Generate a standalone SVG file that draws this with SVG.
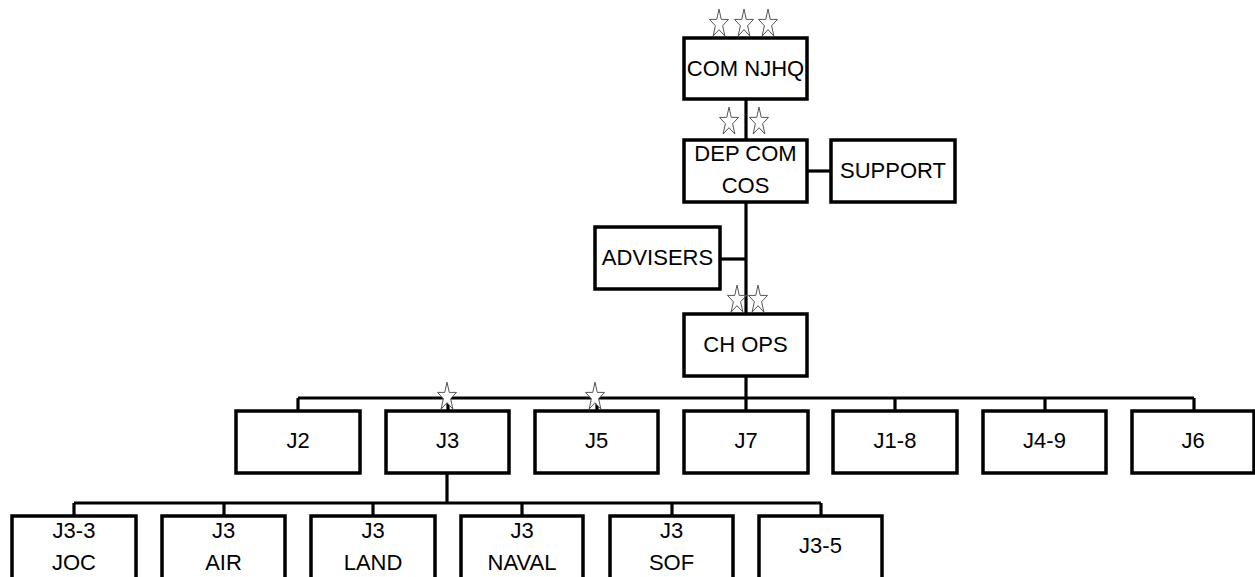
<svg xmlns="http://www.w3.org/2000/svg" width="1255" height="577" viewBox="0 0 1255 577">
<style>
.box{fill:#fff;stroke:#000;stroke-width:3.5}
.con{fill:none;stroke:#000;stroke-width:3.2}
text{font-family:"Liberation Sans",Arial,sans-serif;font-size:22px;fill:#000;text-anchor:middle}
.star{stroke:#555;stroke-width:1;stroke-linejoin:miter}
.s-open{fill:none}
.s-fill{fill:#fff}
</style>
<defs>
<path id="star" d="M0,-14.9 L2.25,-4.6 L9.5,-4.6 L3.63,1.76 L5.88,12.05 L0,5.69 L-5.88,12.05 L-3.63,1.76 L-9.5,-4.6 L-2.25,-4.6 Z"/>
</defs>
<rect width="1255" height="577" fill="#fff"/>
<g id="connectors">
<path class="con" d="M746,99 V140"/>
<path class="con" d="M807,171 H831"/>
<path class="con" d="M746,202 V314"/>
<path class="con" d="M720,259 H746"/>
<path class="con" d="M746,376 V398"/>
<path class="con" d="M298,398 H1194"/>
<path class="con" d="M298,398 V411 M448,398 V411 M597,398 V411 M746,398 V411 M895,398 V411 M1045,398 V411 M1194,398 V411"/>
<path class="con" d="M447,473 V503"/>
<path class="con" d="M74,503 H821"/>
<path class="con" d="M74,503 V516 M224,503 V516 M373,503 V516 M522,503 V516 M672,503 V516 M821,503 V516"/>
</g>
<g id="com-njhq"><rect class="box" x="684" y="38" width="123" height="61"/><text x="745.5" y="76">COM NJHQ</text></g>
<g id="dep-com"><rect class="box" x="684" y="140" width="123" height="62"/><text x="745.5" y="161">DEP COM</text><text x="745.5" y="193">COS</text></g>
<g id="support"><rect class="box" x="831" y="140" width="124" height="62"/><text x="893" y="178">SUPPORT</text></g>
<g id="advisers"><rect class="box" x="595" y="227" width="125" height="62"/><text x="657.5" y="265">ADVISERS</text></g>
<g id="ch-ops"><rect class="box" x="684" y="314" width="123" height="62"/><text x="745.5" y="352">CH OPS</text></g>
<g id="j2"><rect class="box" x="236" y="411" width="124" height="62"/><text x="298" y="448">J2</text></g>
<g id="j3"><rect class="box" x="386" y="411" width="123" height="62"/><text x="447.5" y="448">J3</text></g>
<g id="j5"><rect class="box" x="535" y="411" width="123" height="62"/><text x="596.5" y="448">J5</text></g>
<g id="j7"><rect class="box" x="684" y="411" width="124" height="62"/><text x="746" y="448">J7</text></g>
<g id="j1-8"><rect class="box" x="833" y="411" width="124" height="62"/><text x="895" y="448">J1-8</text></g>
<g id="j4-9"><rect class="box" x="983" y="411" width="123" height="62"/><text x="1044.5" y="448">J4-9</text></g>
<g id="j6"><rect class="box" x="1132" y="411" width="122" height="62"/><text x="1193" y="448">J6</text></g>
<g id="j3-3-joc"><rect class="box" x="12" y="516" width="124" height="70"/><text x="74" y="538">J3-3</text><text x="74" y="570">JOC</text></g>
<g id="j3-air"><rect class="box" x="162" y="516" width="123" height="70"/><text x="223.5" y="538">J3</text><text x="223.5" y="570">AIR</text></g>
<g id="j3-land"><rect class="box" x="311" y="516" width="124" height="70"/><text x="373" y="538">J3</text><text x="373" y="570">LAND</text></g>
<g id="j3-naval"><rect class="box" x="461" y="516" width="122" height="70"/><text x="522" y="538">J3</text><text x="522" y="570">NAVAL</text></g>
<g id="j3-sof"><rect class="box" x="610" y="516" width="123" height="70"/><text x="671.5" y="538">J3</text><text x="671.5" y="570">SOF</text></g>
<g id="j3-5"><rect class="box" x="759" y="516" width="123" height="70"/><text x="820.5" y="553">J3-5</text></g>
<g id="stars">
<use href="#star" class="star s-open" x="719" y="24"/>
<use href="#star" class="star s-open" x="744" y="24"/>
<use href="#star" class="star s-open" x="768" y="24"/>
<use href="#star" class="star s-open" x="729" y="122"/>
<use href="#star" class="star s-open" x="759" y="122"/>
<use href="#star" class="star s-open" x="737" y="300"/>
<use href="#star" class="star s-open" x="758" y="300"/>
<use href="#star" class="star s-fill" x="447" y="397"/>
<use href="#star" class="star s-fill" x="595" y="397"/>
</g>
</svg>
